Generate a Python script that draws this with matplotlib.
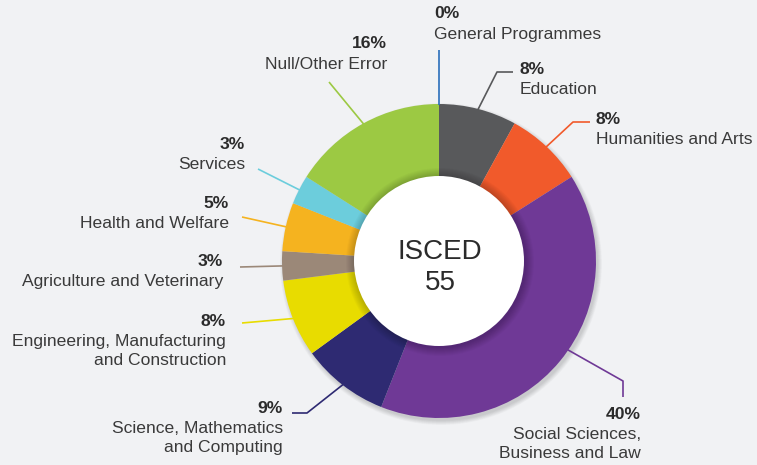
import numpy as np
import matplotlib
matplotlib.use("Agg")
import matplotlib.pyplot as plt
from matplotlib.patches import Circle

plt.rcParams['font.family'] = ['Liberation Sans', 'DejaVu Sans']

# ---- data ----
categories = ["General Programmes", "Education", "Humanities and Arts",
              "Social Sciences,\nBusiness and Law", "Science, Mathematics\nand Computing",
              "Engineering, Manufacturing\nand Construction", "Agriculture and Veterinary",
              "Health and Welfare", "Services", "Null/Other Error"]
values = [0, 8, 8, 40, 9, 8, 3, 5, 3, 16]
colors = ["#2a6ebb", "#58595b", "#f15a2b", "#6f3996", "#2e2a72",
          "#e8dc00", "#9b8878", "#f5b31f", "#6ccddc", "#9cc943"]
center_title = "ISCED\n55"

# ---- layout (pixel coordinates) ----
BG = "#f1f2f4"
cx, cy = 439, 261
R_out, R_in = 157, 85
# leader: (elbow or None, end point), text anchor (x, y of pct line), alignment, start-angle shift
leaders = [
    (None, (439, 50), (434, 14), 'left', 0),
    ((497, 72), (513, 72), (520, 69), 'left', 0),
    ((573, 122), (590, 122), (596, 119), 'left', 0),
    ((623, 381), (623, 397), (641, 414), 'right', -5),
    ((307, 413), (292, 413), (283, 408), 'right', 0),
    (None, (242, 323), (226, 321), 'right', 0),
    (None, (240, 267), (223, 261), 'right', 0),
    (None, (242, 217), (229, 203), 'right', 0),
    (None, (258, 169), (245, 144), 'right', 0),
    (None, (329, 82), (387, 44), 'right', 0),
]

fig = plt.figure(figsize=(7.57, 4.65), dpi=100, facecolor=BG)
ax = fig.add_axes([0, 0, 1, 1])
ax.set_facecolor(BG)

# outer drop shadow
for i in range(8):
    ax.add_patch(Circle((cx + 2, cy + 3), R_out + 4 - i * 0.6, color='black',
                        alpha=0.018, lw=0, zorder=0))

total = sum(values)
wedges, _ = ax.pie(values, colors=colors, center=(cx, cy), radius=R_out,
                   startangle=-90, counterclock=True,
                   wedgeprops=dict(linewidth=0), normalize=True)
for w in wedges:
    w.set_zorder(1)

# inner shadow + white hole
for i in range(9):
    ax.add_patch(Circle((cx + 1, cy + 1), R_in + 9 - i, color='black',
                        alpha=0.022, lw=0, zorder=2))
ax.add_patch(Circle((cx, cy), R_in, color='white', lw=0, zorder=3))

ax.text(cx + 1, cy + 6, center_title, ha='center', va='center',
        fontsize=20, color='#2b2b2b', linespacing=1.25, zorder=4)

# leaders and labels
cum = np.cumsum([0] + values)
for i, (cat, val, col) in enumerate(zip(categories, values, colors)):
    elbow, end, (tx, ty), ha, shift = leaders[i]
    frac_mid = (cum[i] + cum[i + 1]) / 2 / total
    th = np.deg2rad(frac_mid * 360 + shift)
    sx = cx + (R_out - 1) * np.sin(th)
    sy = cy - (R_out - 1) * np.cos(th)
    pts = [(sx, sy)] + ([elbow] if elbow else []) + [end]
    xs, ys = zip(*pts)
    ax.plot(xs, ys, color=col, lw=1.2, zorder=1.5, solid_capstyle='butt')
    ax.text(tx, ty, f"{val}%", ha=ha, va='center', fontsize=12.6,
            fontweight='bold', color='#2b2b2b')
    ax.text(tx, ty + 13, cat, ha=ha, va='top', fontsize=12.6,
            color='#3a3a3a', linespacing=1.36)

ax.set_xlim(0, 757)
ax.set_ylim(465, 0)
ax.set_aspect('equal')
ax.axis('off')

fig.savefig("out.png", dpi=100, facecolor=BG)
